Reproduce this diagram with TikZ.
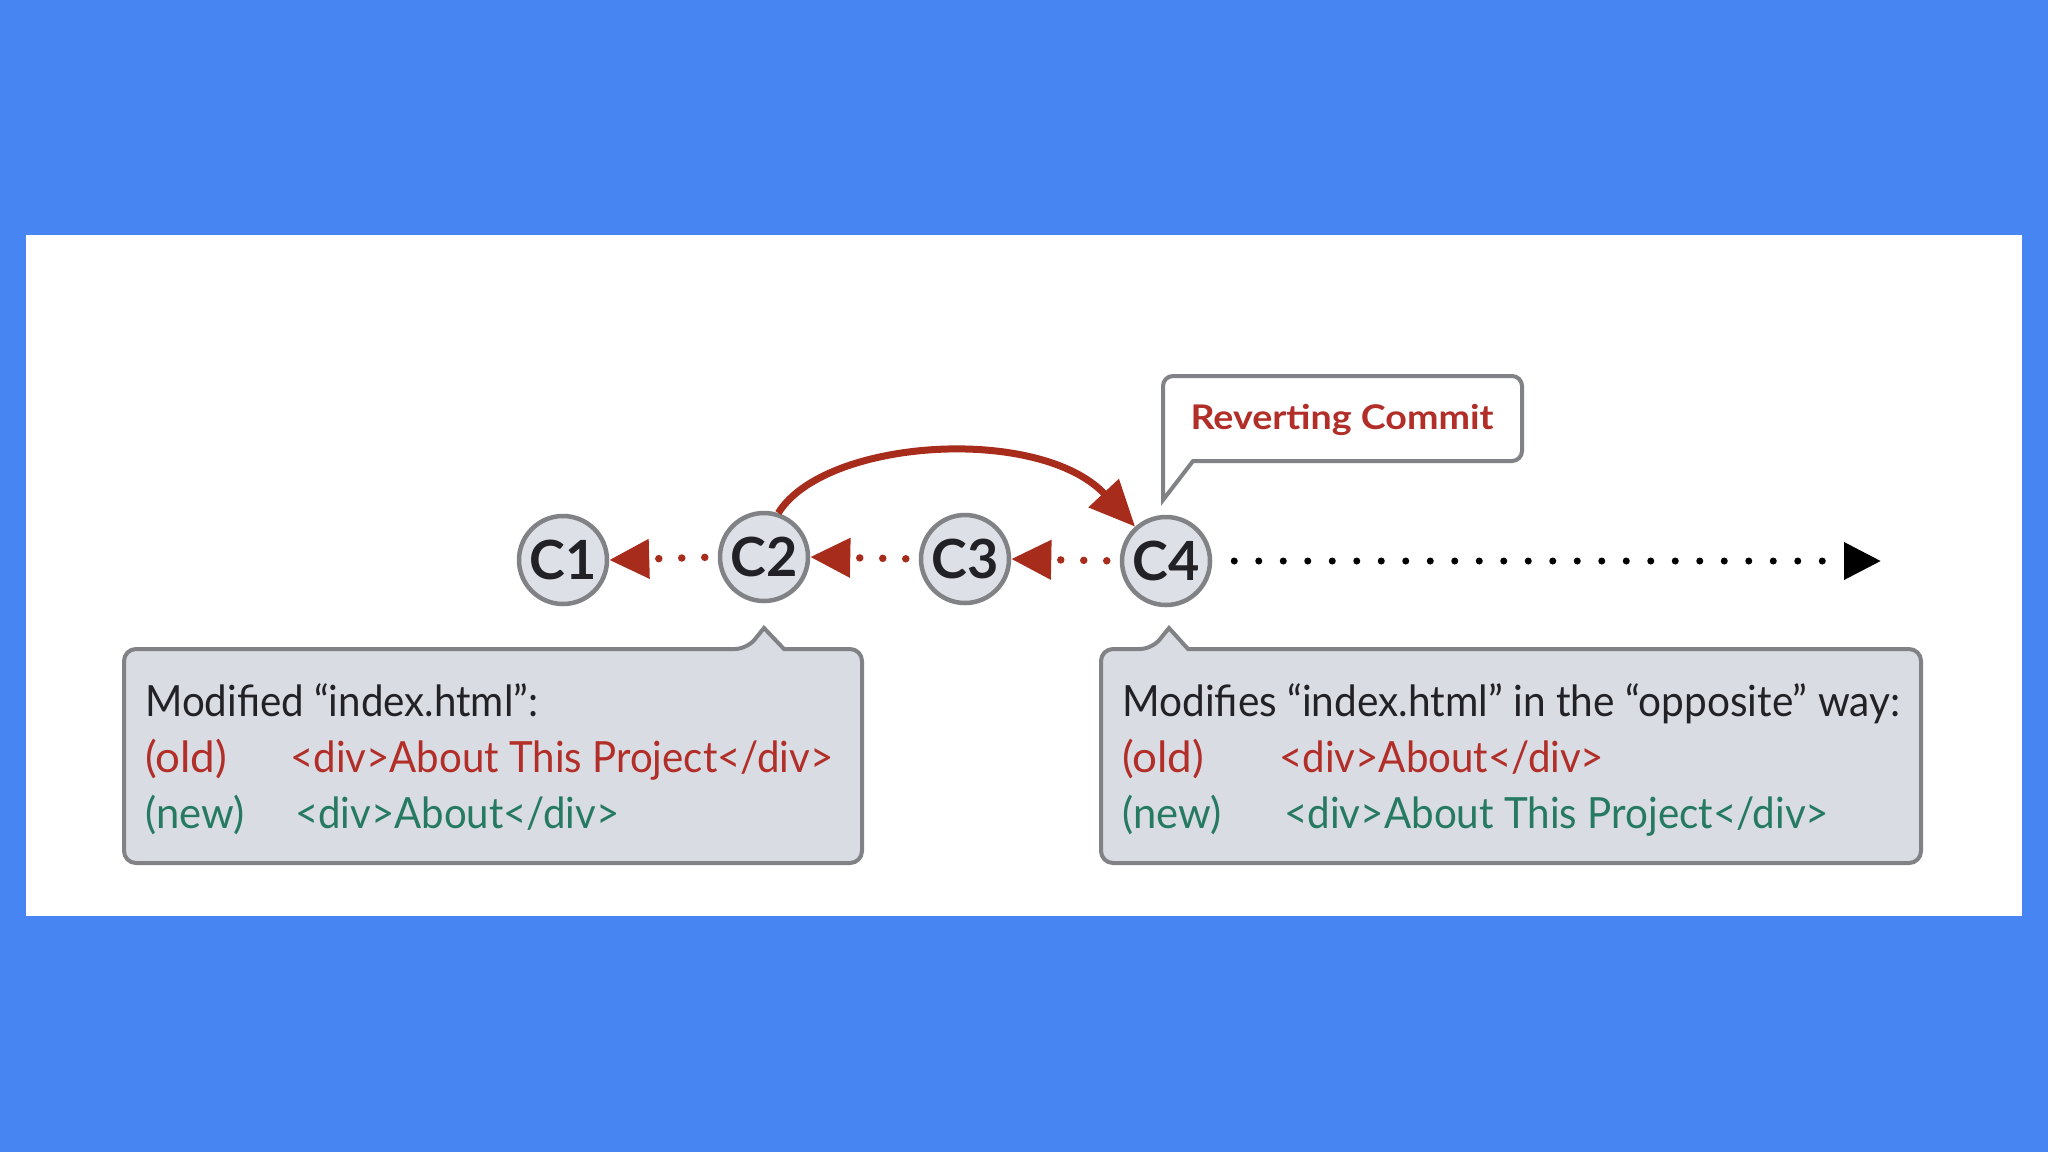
\documentclass[tikz,border=0pt]{standalone}
\usepackage{fontspec}
\usepackage{graphicx}
\setmainfont{Lato}
\usetikzlibrary{arrows.meta}
\definecolor{bgblue}{RGB}{71,134,242}
\definecolor{arrowred}{RGB}{168,44,28}
\definecolor{txtred}{RGB}{178,46,40}
\definecolor{txtgreen}{RGB}{38,122,98}
\definecolor{txtdark}{RGB}{34,34,38}
\definecolor{boxfill}{RGB}{217,220,227}
\definecolor{boxline}{RGB}{128,130,134}
\definecolor{nodefill}{RGB}{221,224,230}
\newcommand\fitw[2]{\resizebox{#1}{\height}{#2}}
\begin{document}
\begin{tikzpicture}[x=1pt,y=-1pt,
  commit/.style={circle,minimum size=88pt,inner sep=0pt,fill=nodefill,draw=boxline,line width=4.5pt,
    text=txtdark,font=\fontsize{54}{54}\selectfont\bfseries},
  reddots/.style={draw=arrowred,line width=7.5pt,line cap=round,dash pattern=on 0pt off 23pt,
    shorten <=13pt,-{Triangle[length=40pt,width=38pt,fill=arrowred]}},
  blackdots/.style={draw=black,line width=7pt,line cap=round,dash pattern=on 0pt off 24.5pt,
    shorten <=22pt,-{Triangle[length=37pt,width=36pt,fill=black]}},
  revarc/.style={draw=arrowred,line width=7pt,-{Triangle[length=46pt,width=40pt,fill=arrowred]}},
  infobox/.style={fill=boxfill,draw=boxline,line width=4pt,rounded corners=12pt},
  callout/.style={fill=white,draw=boxline,line width=4pt},
  bodytxt/.style={anchor=base west,inner sep=0pt,font=\fontsize{43}{43}\selectfont},
]
\fill[bgblue] (0,0) rectangle (2048,1152);
\useasboundingbox (0,0) rectangle (2048,1152);
\fill[white] (26,235) rectangle (2022,916);

% commits
\node[commit] (c1) at (563,560) {C1};
\node[commit] (c2) at (764,557) {C2};
\node[commit] (c3) at (965,559) {C3};
\node[commit] (c4) at (1166,561) {C4};
\coordinate (tip) at (1881,561);

\draw[reddots] (c2.west) -- (c1.east);
\draw[reddots] (c3.west) -- (c2.west -| c2.east);
\draw[reddots] (c4.west) -- (c3.east);
\draw[blackdots] (c4.east) -- (tip);

\draw[revarc] (c2.72) .. controls (825,438) and (1040,425) .. (c4.132);

% callout
\draw[callout] (1163,500) [rounded corners=10pt] -- (1163,376) -- (1522,376) -- (1522,461) [sharp corners] -- (1193,461) -- cycle;
\node[text=txtred,font=\fontsize{34}{34}\selectfont\bfseries,inner sep=0pt] (rc) at (1342,420) {\fitw{303pt}{Reverting Commit}};

% left box
\draw[infobox] (124,649) -- (747,649) [sharp corners] -- (764,628) -- (784,649) [rounded corners=12pt] -- (862,649) -- (862,863) -- (124,863) -- cycle;
\node[bodytxt,text=txtdark] (lh) at (145,716) {\fitw{393pt}{Modified “index.html”:}};
\node[bodytxt,text=txtred] (lo) at (145,772) {\fitw{82pt}{(old)}};
\node[bodytxt,text=txtred] (lot) at (290,772) {\fitw{543pt}{<div>About This Project</div>}};
\node[bodytxt,text=txtgreen] (ln) at (145,828) {\fitw{99pt}{(new)}};
\node[bodytxt,text=txtgreen] (lnt) at (295,828) {\fitw{324pt}{<div>About</div>}};

% right box
\draw[infobox] (1101,649) -- (1152,649) [sharp corners] -- (1169,628) -- (1188,649) [rounded corners=12pt] -- (1921,649) -- (1921,863) -- (1101,863) -- cycle;
\node[bodytxt,text=txtdark] (rh) at (1122,716) {\fitw{778pt}{Modifies “index.html” in the “opposite” way:}};
\node[bodytxt,text=txtred] (ro) at (1122,772) {\fitw{82pt}{(old)}};
\node[bodytxt,text=txtred] (rot) at (1279,772) {\fitw{325pt}{<div>About</div>}};
\node[bodytxt,text=txtgreen] (rn) at (1122,828) {\fitw{99pt}{(new)}};
\node[bodytxt,text=txtgreen] (rnt) at (1284,828) {\fitw{545pt}{<div>About This Project</div>}};
\end{tikzpicture}
\end{document}
